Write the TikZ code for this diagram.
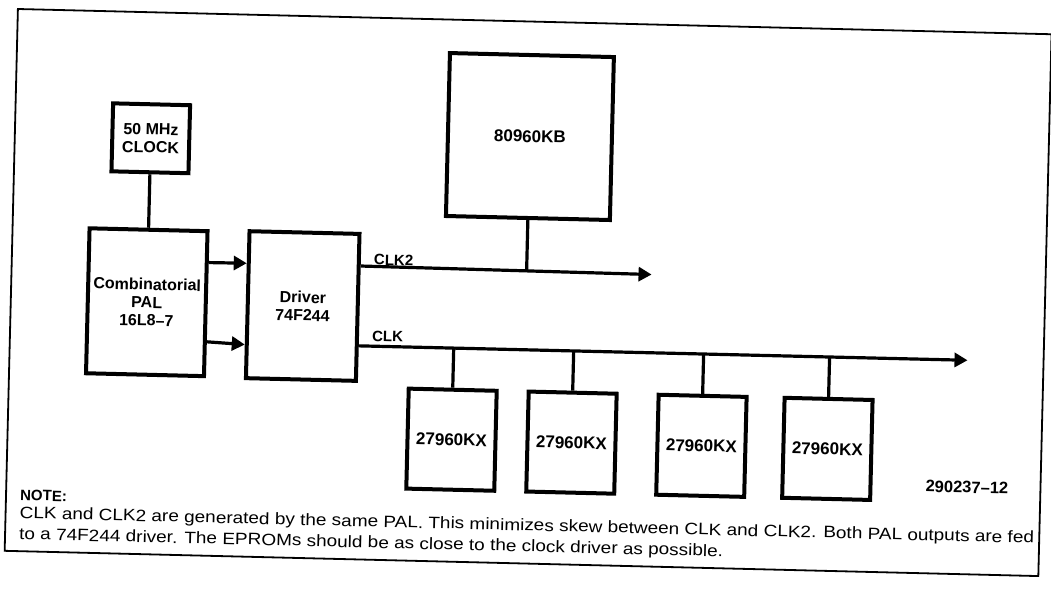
\documentclass[tikz,border=0pt]{standalone}
\usepackage{fontspec}
\setmainfont{Liberation Sans}
\newfontfamily\notefont[FakeStretch=1.15]{Liberation Sans}
\usetikzlibrary{arrows.meta}

\begin{document}
\begin{tikzpicture}[
  x=1pt, y=-1pt,
  box/.style={draw, line width=4pt, inner sep=0pt, align=center, font=\fontsize{16}{18}\selectfont\bfseries},
  rom/.style={box, minimum width=88pt, minimum height=100pt, font=\fontsize{17}{19}\selectfont\bfseries},
  wire/.style={line width=3.2pt},
  arr/.style={wire, -{Triangle[length=13pt, width=14pt]}},
  sig/.style={anchor=south west, inner sep=0pt, font=\fontsize{15}{17}\selectfont\bfseries},
  frame/.style={line width=1.8pt}
]
\useasboundingbox (0,0) rectangle (1051,598);
% the scanned page sits slightly askew
\begin{scope}[shift={(18,5)}, rotate=-1.4, transform shape]
\draw[frame] (0,4) rectangle (1034,546);

\node[box, minimum width=77pt, minimum height=68pt] (osc) at (136,130) {50 MHz\\CLOCK};
\node[box, minimum width=118pt, minimum height=145pt] (pal) at (136,294) {Combinatorial\\PAL\\16L8--7};
\node[box, minimum width=110pt, minimum height=147pt] (drv) at (292,294) {Driver\\74F244};
\node[box, minimum width=164pt, minimum height=163pt, font=\fontsize{17}{19}\selectfont\bfseries] (cpu) at (515,119) {80960KB};

\coordinate (clkii end) at (640,254);
\coordinate (clk end) at (958,332);
\coordinate (cpu tap) at (515,254);

\draw[wire] (osc) -- (pal);
\draw[arr] (pal.34.1) -- (drv.144);
\draw[arr] (pal.-32.8) -- (drv.-145.4);
\draw[arr] (drv.36) -- (clkii end);
\draw[arr] (drv.-34.6) -- (clk end);
\draw[wire] (cpu) -- (cpu tap);

\node[sig] (lbl clkii) at (362,251.5) {CLK2};
\node[sig] (lbl clk) at (362,328) {CLK};

% EPROMs hanging off the CLK line
\foreach \i/\u in {1/444, 2/564, 3/694, 4/820} {
  \node[rom] (rom\i) at (\u,424) {27960KX};
  \coordinate (tap\i) at (\u,332);
  \draw[wire] (tap\i) -- (rom\i);
}

\node[anchor=east, inner sep=0pt, font=\fontsize{16.5}{18}\selectfont\bfseries] (fignum) at (1002,459) {290237--12};
\node[anchor=west, inner sep=0pt, font=\fontsize{15}{17}\selectfont\bfseries] (note) at (14,490) {NOTE:};
\node[anchor=north west, inner sep=0pt, align=left, font=\notefont\fontsize{16.5}{21}\selectfont] (notetext) at (14,501)
  {CLK and CLK2 are generated by the same PAL. This minimizes skew between CLK and CLK2. Both PAL outputs are fed\\
   to a 74F244 driver. The EPROMs should be as close to the clock driver as possible.};
\end{scope}
\end{tikzpicture}
\end{document}
